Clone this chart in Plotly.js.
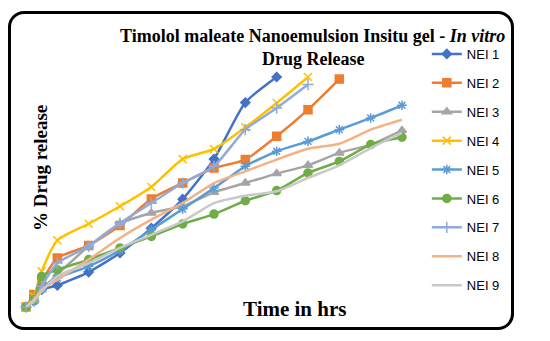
<!DOCTYPE html>
<html>
<head>
<meta charset="utf-8">
<script src="https://cdn.plot.ly/plotly-3.0.1.min.js"></script>
<style>
html,body{margin:0;padding:0;background:#fff;}
#wrap{position:relative;width:550px;height:341px;}
#chart{width:550px;height:341px;}
#frame{position:absolute;left:8px;top:11px;width:500px;height:313px;border:3px solid #000;border-radius:16px;pointer-events:none;}
</style>
</head>
<body>
<div id="wrap"><div id="chart"></div><div id="frame"></div></div>
<script>
var time = [0, 0.25, 0.5, 1, 2, 3, 4, 5, 6, 7, 8, 9, 10, 11, 12];
var names = ["NEI 1","NEI 2","NEI 3","NEI 4","NEI 5","NEI 6","NEI 7","NEI 8","NEI 9"];
var nei1 = [0, 2.5, 7.5, 9.4, 15.2, 23.5, 34.3, 46.9, 64.3, 88.9, 100.0];
var nei2 = [0, 5.4, 11.2, 21.3, 26.7, 35.4, 47.0, 53.9, 60.4, 64.1, 74.2, 85.8, 99.1];
var nei3 = [0, 2.5, 7.5, 14.1, 26.4, 36.2, 40.9, 43.8, 49.9, 53.9, 58.0, 61.6, 67.0, 70.6, 76.8];
var nei4 = [0, 4.6, 15.5, 29.0, 36.2, 43.8, 52.2, 64.3, 68.7, 78.1, 88.7, 100.0];
var nei5 = [0, 2.5, 8.3, 12.6, 17.7, 24.6, 33.6, 42.6, 51.7, 61.2, 67.7, 72.0, 77.1, 82.2, 87.7];
var nei6 = [0, 3.2, 13.3, 16.2, 20.6, 25.7, 30.7, 36.1, 40.4, 46.2, 50.6, 58.3, 63.3, 70.6, 73.8];
var nei7 = [0, 2.5, 9.0, 19.1, 26.4, 36.5, 45.2, 53.9, 61.2, 77.1, 86.5, 96.7];
var nei8 = [0, 3.2, 7.5, 11.9, 20.6, 30.0, 38.0, 45.2, 53.9, 59.0, 64.1, 68.8, 71.0, 77.1, 81.4];
var nei9 = [0, 2.5, 6.8, 13.3, 19.1, 25.7, 31.4, 37.2, 45.2, 48.4, 50.3, 56.1, 61.6, 69.1, 75.7];
var series = [nei1, nei2, nei3, nei4, nei5, nei6, nei7, nei8, nei9];

var colors = ["#4472C4","#ED7D31","#A5A5A5","#FFC000","#5B9BD5","#70AD47","#8FAADC","#F4B183","#C9C9C9"];
var symbols = ["diamond","square","triangle-up","x-thin-open","asterisk-open","circle","cross-thin-open","line-ew-open","line-ew-open"];
var msizes = [7, 8, 8, 8, 8, 8, 8, 0, 0];

var traces = series.map(function(vals, i){
  return {
    x: time.slice(0, vals.length),
    y: vals,
    name: names[i],
    legendgroup: "g" + i,
    type: "scatter",
    mode: msizes[i] > 0 ? "lines+markers" : "lines",
    line: {color: colors[i], width: 2.5, shape: "spline", smoothing: 0.6},
    marker: {symbol: symbols[i], size: msizes[i], color: colors[i], line: {color: colors[i], width: 1.5}},
    cliponaxis: false
  };
});

var serif = "Liberation Serif, Times New Roman, serif";
var layout = {
  width: 550, height: 341,
  margin: {l: 26, r: 148, t: 77, b: 34},
  paper_bgcolor: "#fff", plot_bgcolor: "#fff",
  showlegend: true,
  xaxis: {range: [0, 12], showgrid: false, zeroline: false, showline: false, showticklabels: false, ticks: ""},
  yaxis: {range: [0, 100], showgrid: false, zeroline: false, showline: false, showticklabels: false, ticks: ""},
  legend: {x: 1.066, xanchor: "left", y: (307 - 39) / 230, yanchor: "top", maxheight: 330,
           font: {family: "Liberation Sans, Arial, sans-serif", size: 13, color: "#000"},
           itemwidth: 30, traceorder: "grouped", tracegroupgap: 9, bgcolor: "rgba(0,0,0,0)"},
  annotations: [
    {text: "<b>Timolol maleate Nanoemulsion Insitu gel - <i>In vitro</i></b>", xref: "paper", yref: "paper",
     x: 0.763, y: (307 - 35.5) / 230, xanchor: "center", yanchor: "middle", showarrow: false,
     font: {family: serif, size: 18, color: "#000"}},
    {text: "<b>Drug Release</b>", xref: "paper", yref: "paper",
     x: 0.763, y: (307 - 59) / 230, xanchor: "center", yanchor: "middle", showarrow: false,
     font: {family: serif, size: 18, color: "#000"}},
    {text: "<b>% Drug release</b>", xref: "paper", yref: "paper", textangle: -90,
     x: (40 - 26) / 376, y: (307 - 168) / 230, xanchor: "center", yanchor: "middle", showarrow: false,
     font: {family: serif, size: 19, color: "#000"}},
    {text: "<b>Time in hrs</b>", xref: "paper", yref: "paper",
     x: (294 - 26) / 376, y: (307 - 309) / 230, xanchor: "center", yanchor: "middle", showarrow: false,
     font: {family: serif, size: 21, color: "#000"}}
  ]
};
Plotly.newPlot("chart", traces, layout, {displayModeBar: false, staticPlot: true});
</script>
</body>
</html>
